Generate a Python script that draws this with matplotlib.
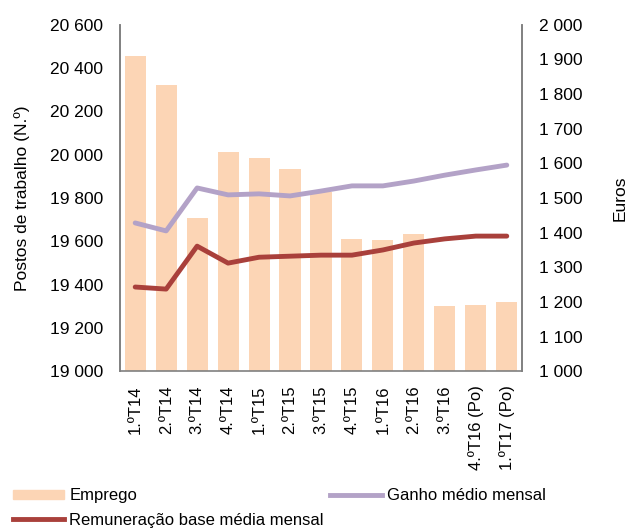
import matplotlib.pyplot as plt
import numpy as np
from matplotlib.patches import Patch
from matplotlib.lines import Line2D

plt.rcParams['font.family'] = ['Liberation Sans', 'DejaVu Sans']

trimestres = ['1.ºT14', '2.ºT14', '3.ºT14', '4.ºT14', '1.ºT15', '2.ºT15', '3.ºT15',
              '4.ºT15', '1.ºT16', '2.ºT16', '3.ºT16', '4.ºT16 (Po)', '1.ºT17 (Po)']
emprego = [20457, 20323, 19708, 20013, 19985, 19934, 19828,
           19610, 19605, 19634, 19301, 19305, 19320]
ganho_medio = [1428, 1405, 1529, 1509, 1512, 1506, 1520,
               1535, 1535, 1549, 1566, 1581, 1595]
remuneracao_base = [1243, 1237, 1361, 1312, 1329, 1332, 1335,
                    1335, 1350, 1370, 1382, 1390, 1390]

cor_barra = '#FCD5B5'
cor_ganho = '#B3A2C7'
cor_remun = '#A9403B'
cor_eixo = '#808080'
tam = 12.5

fig = plt.figure(figsize=(6.3, 5.28), dpi=100)
ax = fig.add_axes([0.190, 0.297, 0.639, 0.656])
x = np.arange(len(trimestres))

ax.bar(x, emprego, width=0.68, color=cor_barra, zorder=1)
ax.set_ylim(19000, 20600)
ax.set_yticks(np.arange(19000, 20601, 200))
ax.set_yticklabels([f'{v:,}'.replace(',', ' ') for v in range(19000, 20601, 200)])
ax.set_xlim(-0.5, len(trimestres) - 0.5)
ax.set_xticks(x)
ax.set_xticklabels(trimestres, rotation=90, fontsize=12)
ax.set_ylabel('Postos de trabalho (N.º)', fontsize=tam, labelpad=14)

ax2 = ax.twinx()
ax2.plot(x, ganho_medio, color=cor_ganho, lw=3.5, solid_capstyle='round', zorder=3)
ax2.plot(x, remuneracao_base, color=cor_remun, lw=3.5, solid_capstyle='round', zorder=3)
ax2.set_ylim(1000, 2000)
ax2.set_yticks(np.arange(1000, 2001, 100))
ax2.set_yticklabels([f'{v:,}'.replace(',', ' ') for v in range(1000, 2001, 100)])
ax2.set_ylabel('Euros', fontsize=tam, labelpad=22)

for a in (ax, ax2):
    a.spines['top'].set_visible(False)
    for s in ('left', 'right', 'bottom'):
        a.spines[s].set_color(cor_eixo)
        a.spines[s].set_linewidth(1.2)
    a.tick_params(axis='y', length=0, labelsize=tam, pad=12)
ax2.spines['bottom'].set_visible(False)
ax.tick_params(axis='x', length=0, pad=10)

handles = [Patch(color=cor_barra),
           Line2D([], [], color=cor_remun, lw=3.5),
           Line2D([], [], color=cor_ganho, lw=3.5)]
labels = ['Emprego', 'Remuneração base média mensal', 'Ganho médio mensal']
fig.legend(handles, labels, ncol=2, loc='upper left', bbox_to_anchor=(0.02, 0.075),
           frameon=False, fontsize=12, handlelength=3.1, handleheight=0.5,
           handletextpad=0.3, columnspacing=0.4, labelspacing=0.55,
           borderaxespad=0, borderpad=0)

fig.savefig('out.png', dpi=100)
